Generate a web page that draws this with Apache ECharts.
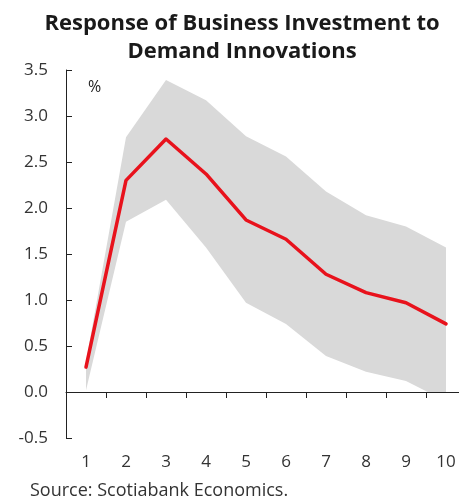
<!DOCTYPE html>
<html>
<head>
<meta charset="utf-8">
<script src="https://cdn.jsdelivr.net/npm/echarts@6/dist/echarts.min.js"></script>
<style>
  html, body { margin: 0; padding: 0; background: #ffffff; }
  #chart { width: 459px; height: 504px; }
</style>
</head>
<body>
<div id="chart"></div>
<script>
// Quarters after the shock
const quarters = ['1', '2', '3', '4', '5', '6', '7', '8', '9', '10'];
// Point estimate of the response (%)
const response = [0.27, 2.30, 2.75, 2.37, 1.87, 1.66, 1.28, 1.08, 0.97, 0.74];
// Confidence band bounds (%)
const upperBand = [0.33, 2.77, 3.39, 3.17, 2.78, 2.56, 2.18, 1.92, 1.80, 1.57];
const lowerBand = [0.02, 1.85, 2.09, 1.57, 0.97, 0.74, 0.39, 0.22, 0.12, -0.10];
// Value axis ticks
const yTicks = { min: -0.5, max: 3.5, step: 0.5 };

const FONT = '"Open Sans", "DejaVu Sans", sans-serif';
const chart = echarts.init(document.getElementById('chart'), null, { renderer: 'canvas' });

chart.setOption({
  animation: false,
  backgroundColor: '#ffffff',
  title: {
    text: 'Response of Business Investment to\nDemand Innovations',
    left: 237,
    textAlign: 'center',
    top: 5,
    textStyle: { fontFamily: FONT, fontWeight: 'bold', fontSize: 22, lineHeight: 28, color: '#1a1a1a' }
  },
  graphic: [
    { type: 'text', left: 88, top: 79,
      style: { text: '%', fontFamily: FONT, fontSize: 16, fill: '#222' } },
    { type: 'text', left: 30, top: 482,
      style: { text: 'Source: Scotiabank Economics.', fontFamily: FONT, fontSize: 18, fill: '#333' } }
  ],
  // the last category band runs slightly past the right edge of the canvas
  grid: { left: 66, width: 400, top: 70, bottom: 66, containLabel: false, outerBoundsMode: 'none' },
  xAxis: [
    {
      type: 'category', data: quarters, boundaryGap: true, position: 'bottom', z: 10,
      axisLine: { show: true, onZero: true, lineStyle: { color: '#222', width: 1 } },
      axisTick: { show: true, inside: false, length: 6, lineStyle: { color: '#222' } },
      axisLabel: { show: false },
      splitLine: { show: false }
    },
    {
      type: 'category', data: quarters, boundaryGap: true, position: 'bottom',
      axisLine: { show: false, onZero: false },
      axisTick: { show: false },
      axisLabel: { show: true, margin: 16, fontFamily: FONT, fontSize: 17, color: '#333' },
      splitLine: { show: false }
    }
  ],
  yAxis: {
    type: 'value', min: yTicks.min, max: yTicks.max, interval: yTicks.step, z: 10,
    axisLine: { show: true, lineStyle: { color: '#222', width: 1 } },
    axisTick: { show: true, inside: true, length: 6, lineStyle: { color: '#222' } },
    axisLabel: { margin: 18, fontFamily: FONT, fontSize: 17, color: '#333',
      formatter: v => v.toFixed(1) },
    splitLine: { show: false }
  },
  series: [
    {
      name: 'upper', type: 'line', data: upperBand, xAxisIndex: 0,
      showSymbol: false, symbol: 'none', silent: true, z: 1,
      lineStyle: { width: 0, color: '#d9d9d9' },
      areaStyle: { color: '#d9d9d9', opacity: 1, origin: 0 }
    },
    {
      name: 'lower', type: 'line', data: lowerBand, xAxisIndex: 0,
      showSymbol: false, symbol: 'none', silent: true, z: 2,
      lineStyle: { width: 0, color: '#ffffff' },
      areaStyle: { color: '#ffffff', opacity: 1, origin: 0 }
    },
    {
      name: 'response', type: 'line', data: response, xAxisIndex: 0,
      showSymbol: false, symbol: 'none', z: 3,
      lineStyle: { width: 3.5, color: '#e8121c', join: 'round', cap: 'round' }
    }
  ]
});
</script>
</body>
</html>
